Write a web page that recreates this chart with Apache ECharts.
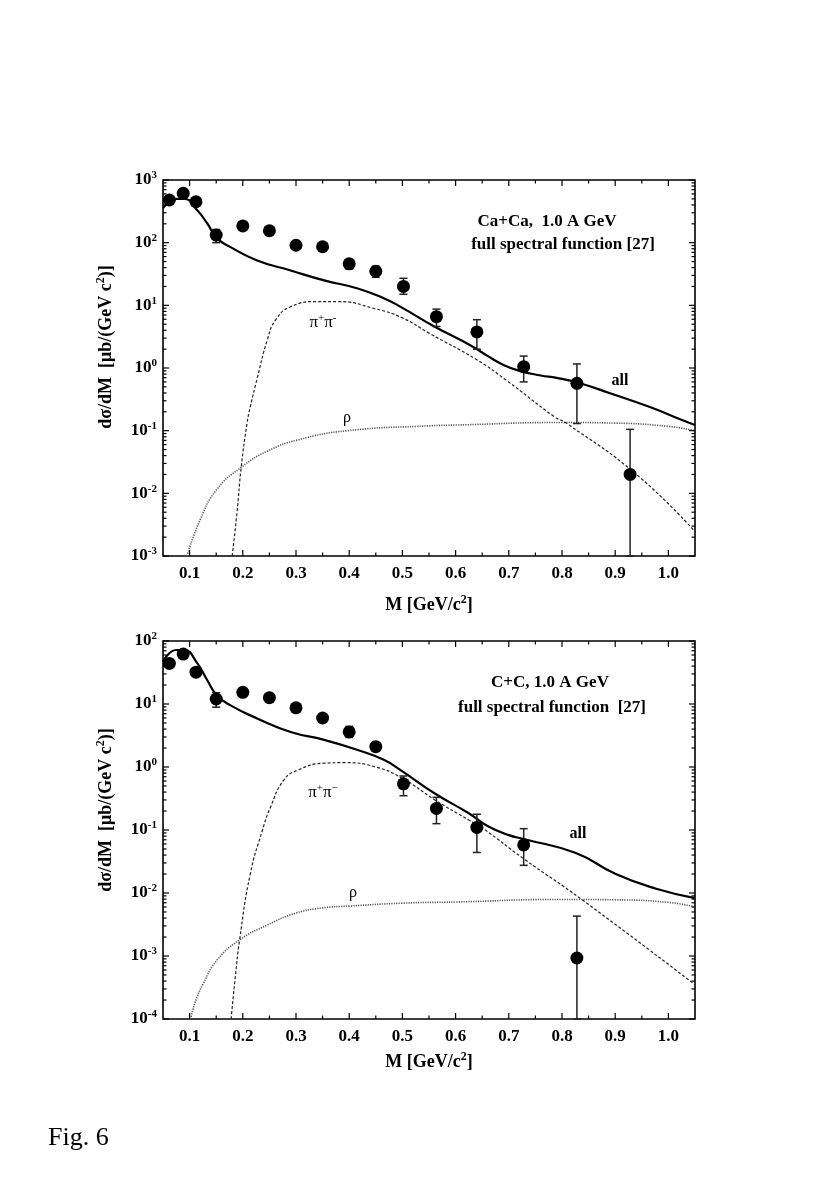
<!DOCTYPE html>
<html><head><meta charset="utf-8">
<script src="https://cdn.jsdelivr.net/npm/echarts@6/dist/echarts.min.js"></script>
<style>html,body{margin:0;padding:0;background:#fff}#c{width:817px;height:1199px}</style>
</head><body><div id="c"></div>
<script>
// ---------- axes ----------
const X_MIN = 0.05, X_MAX = 1.05;
const xTickValues = [0.1,0.2,0.3,0.4,0.5,0.6,0.7,0.8,0.9,1.0];
const xTickLabels = ['0.1','0.2','0.3','0.4','0.5','0.6','0.7','0.8','0.9','1.0'];
const xMinorTicks = [0.15,0.25,0.35,0.45,0.55,0.65,0.75,0.85,0.95];
const caDecades = [1e-3,1e-2,1e-1,1,10,100,1000];
const ccDecades = [1e-4,1e-3,1e-2,1e-1,1,10,100];

// ---------- Ca+Ca data ----------
const caM  = [0.062,0.088,0.112,0.150,0.200,0.250,0.300,0.350,0.400,0.450,0.502,0.564,0.640,0.728,0.828,0.928];
const caY  = [480,615,450,132,185,155,91,86,46,35,20,6.6,3.77,1.05,0.57,0.020];
const caLo = [null,null,null,100,null,null,null,null,38,28,15,4.6,2.0,0.60,0.13,0.001];
const caHi = [null,null,null,162,null,null,null,null,54,42,27,8.7,5.9,1.55,1.16,0.105];

const caAllM = [0.05,0.076,0.09,0.114,0.133,0.152,0.177,0.227,0.29,0.353,0.416,0.466,0.5,0.56,0.63,0.66,0.69,0.72,0.76,0.79,0.832,0.889,0.964,1.028,1.05];
const caAllV = [355,500,500,331,204,117,85,52,36,25,18.6,12.9,9.1,4.6,2.25,1.56,1.12,0.90,0.76,0.695,0.575,0.40,0.24,0.145,0.123];
const caPiM = [0.180,0.189,0.197,0.208,0.214,0.227,0.246,0.262,0.29,0.34,0.378,0.447,0.5,0.55,0.64,0.694,0.786,0.808,0.94,1.05];
const caPiV = [0.001,0.0048,0.026,0.132,0.24,0.68,2.8,5.9,9.5,11.5,11.5,8.9,6.3,3.6,1.35,0.65,0.166,0.132,0.020,0.00245];
const caRhoM = [0.095,0.12,0.151,0.197,0.246,0.303,0.397,0.555,0.6,0.8,0.9,1.0,1.05];
const caRhoV = [0.001,0.0038,0.0115,0.026,0.047,0.071,0.100,0.120,0.123,0.135,0.132,0.117,0.100];

// ---------- C+C data ----------
const ccM  = [0.062,0.088,0.112,0.150,0.200,0.250,0.300,0.350,0.400,0.450,0.502,0.564,0.640,0.728,0.828];
const ccY  = [44,62,32,12,15.3,12.6,8.7,6.0,3.6,2.1,0.54,0.22,0.11,0.058,0.00093];
const ccLo = [null,null,null,8.9,null,null,null,null,2.95,1.85,0.35,0.126,0.044,0.0275,0.0001];
const ccHi = [null,null,null,15.1,null,null,null,null,4.4,2.4,0.72,0.33,0.178,0.105,0.0043];

const ccAllM = [0.05,0.075,0.09,0.114,0.133,0.151,0.177,0.227,0.29,0.353,0.416,0.466,0.5,0.561,0.624,0.66,0.70,0.728,0.826,0.901,0.977,1.05];
const ccAllV = [47,72,72,45,24,13.8,9.5,5.9,3.6,2.7,1.86,1.29,0.85,0.38,0.186,0.116,0.083,0.072,0.043,0.020,0.0117,0.0083];
const ccPiM = [0.178,0.186,0.194,0.214,0.237,0.252,0.277,0.303,0.353,0.391,0.448,0.5,0.561,0.624,0.652,0.728,0.838,1.05];
const ccPiV = [0.0001,0.00047,0.0018,0.020,0.10,0.23,0.62,0.89,1.15,1.17,1.01,0.66,0.30,0.145,0.105,0.035,0.0078,0.00035];
const ccRhoM = [0.102,0.11,0.126,0.152,0.194,0.246,0.3,0.35,0.4,0.5,0.6,0.8,0.9,1.0,1.05];
const ccRhoV = [0.0001,0.00018,0.00037,0.00087,0.0018,0.0031,0.0048,0.0058,0.0062,0.0069,0.0072,0.0079,0.0078,0.0071,0.0060];

// ---------- helpers ----------
const FONT = '"Liberation Serif","DejaVu Serif",serif';
const zip = (a, b) => a.map((v, i) => [v, b[i]]);
function minorOf(decades) {
  const out = [];
  for (let i = 0; i < decades.length - 1; i++) for (let k = 2; k <= 9; k++) out.push(decades[i] * k);
  return out;
}
const MAJ = 6, MIN = 3.5;

function tickSeries(gi, decades) {
  const yMin = decades[0], yMax = decades[decades.length - 1];
  const items = [];
  xTickValues.forEach(v => items.push([v, yMin, 0, MAJ]));
  xMinorTicks.forEach(v => items.push([v, yMin, 0, MIN]));
  decades.forEach(v => items.push([X_MIN, v, 1, MAJ]));
  minorOf(decades).forEach(v => items.push([X_MIN, v, 1, MIN]));
  return {
    type: 'custom', xAxisIndex: gi, yAxisIndex: gi, silent: true, z: 5,
    data: items,
    renderItem: function (params, api) {
      const x = api.value(0), y = api.value(1), dir = api.value(2), len = api.value(3);
      const st = { stroke: '#000', lineWidth: 1.2 };
      if (dir === 0) {
        const b = api.coord([x, yMin]), t = api.coord([x, yMax]);
        return { type: 'group', children: [
          { type: 'line', shape: { x1: b[0], y1: b[1], x2: b[0], y2: b[1] - len }, style: st },
          { type: 'line', shape: { x1: t[0], y1: t[1], x2: t[0], y2: t[1] + len }, style: st }
        ]};
      } else {
        const l = api.coord([X_MIN, y]), r = api.coord([X_MAX, y]);
        return { type: 'group', children: [
          { type: 'line', shape: { x1: l[0], y1: l[1], x2: l[0] + len, y2: l[1] }, style: st },
          { type: 'line', shape: { x1: r[0], y1: r[1], x2: r[0] - len, y2: r[1] }, style: st }
        ]};
      }
    }
  };
}

function errSeries(gi, M, lo, hi) {
  const d = [];
  M.forEach((m, i) => { if (lo[i] != null) d.push([m, lo[i], hi[i]]); });
  return {
    type: 'custom', xAxisIndex: gi, yAxisIndex: gi, silent: true, z: 3,
    encode: { x: 0, y: [1, 2] },
    data: d,
    renderItem: function (params, api) {
      const a = api.coord([api.value(0), api.value(1)]);
      const b = api.coord([api.value(0), api.value(2)]);
      const st = { stroke: '#222', lineWidth: 1.5 };
      const w = 4;
      return { type: 'group', children: [
        { type: 'line', shape: { x1: a[0], y1: a[1], x2: b[0], y2: b[1] }, style: st },
        { type: 'line', shape: { x1: a[0] - w, y1: a[1], x2: a[0] + w, y2: a[1] }, style: st },
        { type: 'line', shape: { x1: b[0] - w, y1: b[1], x2: b[0] + w, y2: b[1] }, style: st }
      ]};
    }
  };
}

function lineSeries(gi, M, V, style) {
  return {
    type: 'line', xAxisIndex: gi, yAxisIndex: gi, data: zip(M, V),
    showSymbol: false, symbol: 'none', smooth: 0.5,
    silent: true, z: 2, clip: true,
    lineStyle: style
  };
}

function scatterSeries(gi, M, Y) {
  return {
    type: 'scatter', xAxisIndex: gi, yAxisIndex: gi, data: zip(M, Y),
    symbol: 'circle', symbolSize: 13, itemStyle: { color: '#000', opacity: 1 }, z: 4, silent: true
  };
}

function xAxisOf(gi) {
  return {
    type: 'value', gridIndex: gi, min: X_MIN, max: X_MAX, interval: 0.05,
    axisLine: { show: false }, axisTick: { show: false }, splitLine: { show: false },
    axisLabel: {
      margin: 9, color: '#000', fontFamily: FONT, fontWeight: 'bold', fontSize: 17,
      formatter: function (v) {
        const i = xTickValues.findIndex(t => Math.abs(t - v) < 1e-6);
        return i >= 0 ? xTickLabels[i] : '';
      }
    }
  };
}
function yAxisOf(gi, decades) {
  return {
    type: 'log', logBase: 10, gridIndex: gi, min: decades[0], max: decades[decades.length - 1],
    splitNumber: decades.length - 1,
    axisLine: { show: false }, axisTick: { show: false }, splitLine: { show: false },
    axisLabel: {
      margin: 6, color: '#000',
      formatter: function (v) { return '{b|10}{s|' + Math.round(Math.log10(v)) + '}'; },
      rich: {
        b: { fontFamily: FONT, fontWeight: 'bold', fontSize: 17, color: '#000', lineHeight: 20 },
        s: { fontFamily: FONT, fontWeight: 'bold', fontSize: 11, color: '#000', verticalAlign: 'top', lineHeight: 12 }
      }
    }
  };
}

const richTitle = {
  t: { fontFamily: FONT, fontWeight: 'bold', fontSize: 18, color: '#000', lineHeight: 22 },
  s: { fontFamily: FONT, fontWeight: 'bold', fontSize: 12, color: '#000', verticalAlign: 'top', lineHeight: 12 }
};
const richPi = {
  t: { fontFamily: FONT, fontSize: 17, color: '#000', lineHeight: 20 },
  s: { fontFamily: FONT, fontSize: 11, color: '#000', verticalAlign: 'top', lineHeight: 11 }
};
function txt(x, y, text, opts) {
  return Object.assign({ type: 'text', x: x, y: y, z: 10,
    style: Object.assign({ text: text, align: 'center', verticalAlign: 'middle', fill: '#000',
      fontFamily: FONT, fontSize: 17, fontWeight: 'bold' }, opts || {}) });
}
function rotTitle(x, y) {
  return { type: 'text', x: x, y: y, rotation: Math.PI / 2, z: 10,
    style: { text: '{t|dσ/dM  [μb/(GeV c}{s|2}{t|)]}', rich: richTitle, align: 'center', verticalAlign: 'middle' } };
}

const solid = { color: '#000', width: 2.2, type: 'solid' };
const dashed = { color: '#222', width: 1.2, type: [3, 2] };
const dotted = { color: '#555', width: 1.6, type: [1.2, 1.2] };

const option = {
  backgroundColor: '#fff',
  animation: false,
  grid: [
    { left: 163, top: 180, width: 532, height: 376, show: true, borderColor: '#000', borderWidth: 1.6, backgroundColor: 'transparent' },
    { left: 163, top: 641, width: 532, height: 378, show: true, borderColor: '#000', borderWidth: 1.6, backgroundColor: 'transparent' }
  ],
  xAxis: [xAxisOf(0), xAxisOf(1)],
  yAxis: [yAxisOf(0, caDecades), yAxisOf(1, ccDecades)],
  series: [
    tickSeries(0, caDecades), tickSeries(1, ccDecades),
    lineSeries(0, caRhoM, caRhoV, dotted),
    lineSeries(0, caPiM, caPiV, dashed),
    lineSeries(0, caAllM, caAllV, solid),
    errSeries(0, caM, caLo, caHi),
    scatterSeries(0, caM, caY),
    lineSeries(1, ccRhoM, ccRhoV, dotted),
    lineSeries(1, ccPiM, ccPiV, dashed),
    lineSeries(1, ccAllM, ccAllV, solid),
    errSeries(1, ccM, ccLo, ccHi),
    scatterSeries(1, ccM, ccY)
  ],
  graphic: [
    txt(547, 222, 'Ca+Ca,  1.0 A GeV'),
    txt(563, 245, 'full spectral function [27]'),
    { type: 'text', x: 323, y: 323, z: 10, style: { text: '{t|π}{s|+}{t|π}{s|-}', rich: richPi, align: 'center', verticalAlign: 'middle' } },
    txt(347, 418, 'ρ', { fontWeight: 'normal', fontSize: 16 }),
    txt(620, 381, 'all', { fontSize: 16 }),
    rotTitle(106, 347),
    { type: 'text', x: 429, y: 605, z: 10, style: { text: '{t|M [GeV/c}{s|2}{t|]}', rich: richTitle, align: 'center', verticalAlign: 'middle' } },

    txt(550, 683, 'C+C, 1.0 A GeV'),
    txt(552, 708, 'full spectral function  [27]'),
    { type: 'text', x: 323, y: 793, z: 10, style: { text: '{t|π}{s|+}{t|π}{s|−}', rich: richPi, align: 'center', verticalAlign: 'middle' } },
    txt(353, 893, 'ρ', { fontWeight: 'normal', fontSize: 16 }),
    txt(578, 834, 'all', { fontSize: 16 }),
    rotTitle(106, 810),
    { type: 'text', x: 429, y: 1062, z: 10, style: { text: '{t|M [GeV/c}{s|2}{t|]}', rich: richTitle, align: 'center', verticalAlign: 'middle' } },

    txt(48, 1138, 'Fig. 6', { align: 'left', fontWeight: 'normal', fontSize: 26 })
  ]
};
const chart = echarts.init(document.getElementById('c'), null, { renderer: 'canvas' });
chart.setOption(option);
</script>
</body></html>
